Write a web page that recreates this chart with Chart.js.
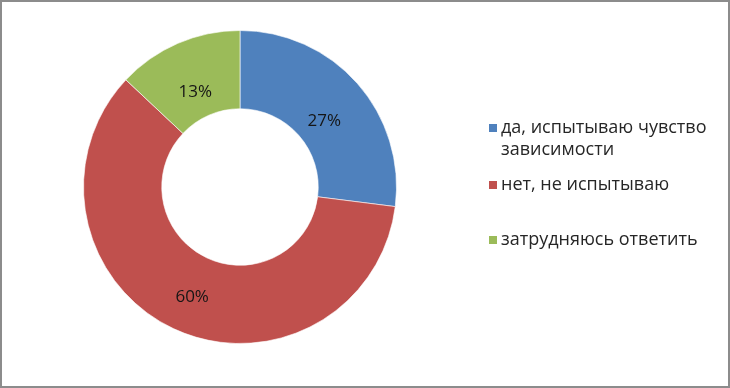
<!DOCTYPE html>
<html>
<head>
<meta charset="utf-8">
<script src="https://cdn.jsdelivr.net/npm/chart.js@4"></script>
<style>
    body { margin: 0; background: #fff; }
    #wrap { position: relative; width: 730px; height: 388px; }
    #donutChart { display: block; }
    #frame {
        position: absolute; left: 0; top: 0;
        width: 730px; height: 388px;
        box-sizing: border-box;
        border: 2px solid #8c8c8c;
        pointer-events: none;
    }
</style>
</head>
<body>
<div id="wrap">
    <canvas id="donutChart" width="730" height="388"></canvas>
    <div id="frame"></div>
</div>
<script>
const categories = ['да, испытываю чувство зависимости', 'нет, не испытываю', 'затрудняюсь ответить'];
const shares = [27, 60, 13];
const shareLabels = ['27%', '60%', '13%'];

const FONT = '"Open Sans", "DejaVu Sans", sans-serif';

// percentage text inside each ring segment
const sliceLabels = {
    id: 'sliceLabels',
    afterDatasetsDraw(chart) {
        const ctx = chart.ctx;
        const meta = chart.getDatasetMeta(0);
        ctx.save();
        ctx.font = '17px ' + FONT;
        ctx.fillStyle = '#151515';
        ctx.textAlign = 'center';
        ctx.textBaseline = 'middle';
        meta.data.forEach((arc, i) => {
            const a = arc.getProps(['x', 'y', 'startAngle', 'endAngle', 'innerRadius', 'outerRadius']);
            const mid = (a.startAngle + a.endAngle) / 2;
            const r = (a.innerRadius + a.outerRadius) / 2 - 5;
            ctx.fillText(shareLabels[i], a.x + Math.cos(mid) * r, a.y + Math.sin(mid) * r + 8);
        });
        ctx.restore();
    }
};

function wrapText(ctx, text, maxWidth) {
    const words = text.split(' ');
    const lines = [];
    let line = '';
    for (const w of words) {
        const test = line ? line + ' ' + w : w;
        if (ctx.measureText(test).width > maxWidth && line) {
            lines.push(line);
            line = w;
        } else {
            line = test;
        }
    }
    lines.push(line);
    return lines;
}

// legend on the right, drawn by hand so the first item can wrap
const sideLegend = {
    id: 'sideLegend',
    afterDraw(chart) {
        const ctx = chart.ctx;
        const ds = chart.data.datasets[0];
        const rowsY = [128, 185, 240];
        const lineH = 22;
        ctx.save();
        ctx.font = '18px ' + FONT;
        ctx.textBaseline = 'middle';
        chart.data.labels.forEach((label, i) => {
            const y = rowsY[i];
            ctx.fillStyle = ds.backgroundColor[i];
            ctx.fillRect(489, y - 4, 8, 8);
            ctx.fillStyle = '#262626';
            const lines = wrapText(ctx, label, 215);
            lines.forEach((ln, k) => ctx.fillText(ln, 501, y + k * lineH));
        });
        ctx.restore();
    }
};

const donutChart = new Chart(document.getElementById('donutChart').getContext('2d'), {
    type: 'doughnut',
    data: {
        labels: categories,
        datasets: [{
            data: shares,
            backgroundColor: ['#4F81BD', '#C0504D', '#9BBB59'],
            borderColor: 'rgba(255,255,255,0.6)',
            borderWidth: 1
        }]
    },
    options: {
        responsive: false,
        animation: false,
        cutout: '50%',
        layout: {
            padding: { left: 83, right: 333, top: 30, bottom: 44 }
        },
        plugins: {
            legend: { display: false },
            tooltip: { enabled: false }
        }
    },
    plugins: [sliceLabels, sideLegend]
});
</script>
</body>
</html>
